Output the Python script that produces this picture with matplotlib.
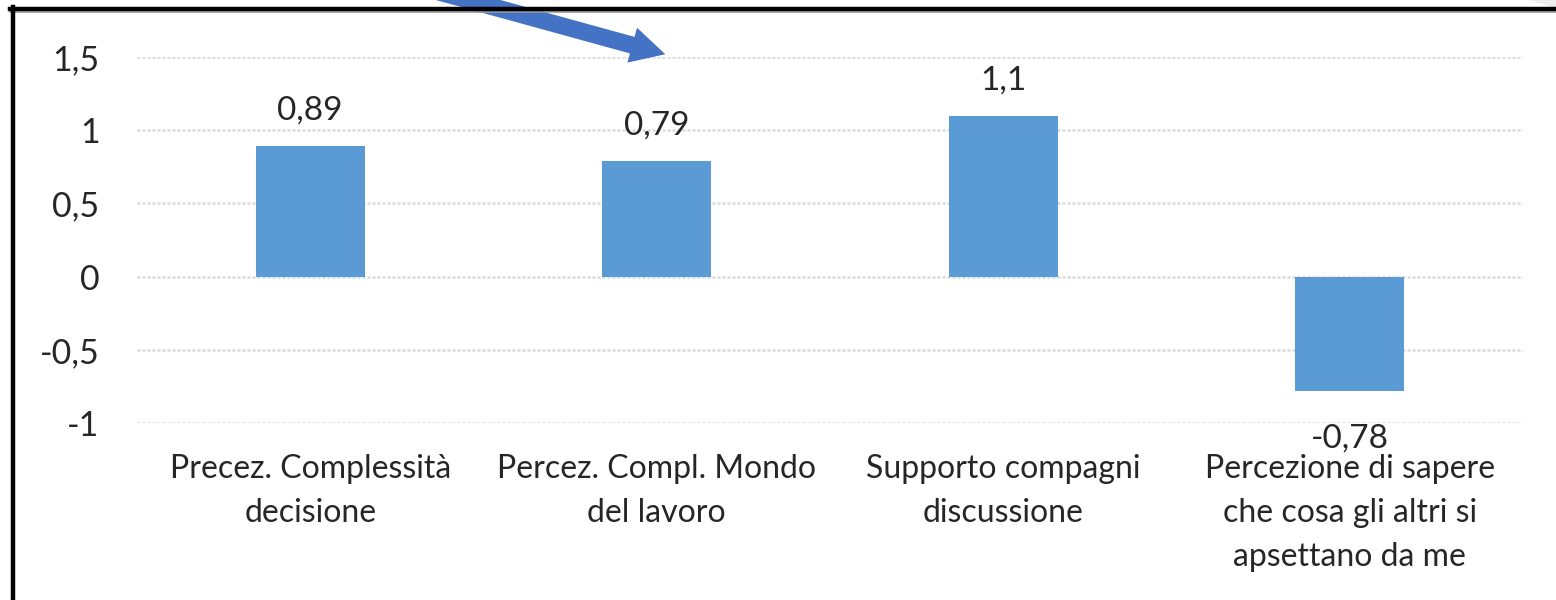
import matplotlib
matplotlib.use("Agg")
import matplotlib.pyplot as plt
from matplotlib.lines import Line2D
from matplotlib.patches import FancyArrowPatch, Polygon

categories = ["Precez. Complessità\ndecisione",
              "Percez. Compl. Mondo\ndel lavoro",
              "Supporto compagni\ndiscussione",
              "Percezione di sapere\nche cosa gli altri si\napsettano da me"]
values = [0.89, 0.79, 1.1, -0.78]
value_labels = ["0,89", "0,79", "1,1", "-0,78"]
yticks = [-1, -0.5, 0, 0.5, 1, 1.5]
ytick_labels = ["-1", "-0,5", "0", "0,5", "1", "1,5"]

plt.rcParams['font.family'] = ['Lato', 'DejaVu Sans']

W, H = 1556, 600
fig = plt.figure(figsize=(W / 100, H / 100), dpi=100)
ax = fig.add_axes([137 / W, 177 / H, (1523 - 137) / W, (423 - 57) / H])

x = list(range(len(values)))
ax.bar(x, values, width=0.315, color="#5B9BD5", zorder=3)
ax.set_xlim(-0.5, len(values) - 0.5)
ax.set_ylim(-1, 1.5)
ax.set_yticks(yticks)
ax.set_yticklabels(ytick_labels)
ax.set_xticks(x)
ax.set_xticklabels(categories, linespacing=1.58)
ax.tick_params(axis='y', length=0, pad=27, labelsize=24.5)
ax.tick_params(axis='x', length=0, pad=22.5, labelsize=23)
for t in ax.get_yticklabels() + ax.get_xticklabels():
    t.set_color("#262626")
ax.grid(axis='y', color="#d9d9d9", linewidth=1.8, linestyle=(0, (1.2, 0.8)), zorder=0)
for s in ax.spines.values():
    s.set_visible(False)

for xi, v, lab in zip(x, values, value_labels):
    if v >= 0:
        ax.annotate(lab, (xi, v), xytext=(0, 19), textcoords="offset points",
                    ha="center", va="baseline", fontsize=24, color="#262626")
    else:
        ax.annotate(lab, (xi, v), xytext=(0, -41), textcoords="offset points",
                    ha="center", va="baseline", fontsize=24, color="#262626")

# frame decoration (figure pixel coordinates)
def fx(px):
    return px / W

def fy(py):
    return 1 - py / H

fig.add_artist(Polygon([(fx(1528), fy(0)), (fx(1556), fy(0)), (fx(1556), fy(8))],
                       closed=True, facecolor="#eeeeee", edgecolor="none"))
fig.add_artist(Line2D([fx(10), fx(1556)], [fy(11.5), fy(11.5)], color="#9a9a9a", lw=1.2))
fig.add_artist(Line2D([fx(10), fx(1556)], [fy(9), fy(9)], color="#000000", lw=3.2))
fig.add_artist(Line2D([fx(12.5), fx(12.5)], [fy(7), fy(600)], color="#000000", lw=3.2))

arrow = FancyArrowPatch((fx(410), fy(-16)), (fx(668), fy(55)),
                        transform=fig.transFigure,
                        arrowstyle="simple,head_length=1.9,head_width=2.0,tail_width=0.95",
                        mutation_scale=13, color="#4472C4", lw=0)
fig.add_artist(arrow)

fig.savefig("out.png", dpi=100)
